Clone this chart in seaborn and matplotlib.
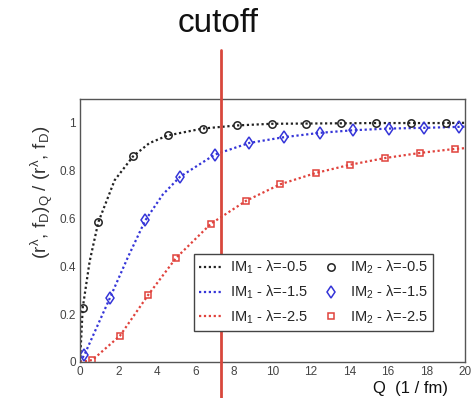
import matplotlib
matplotlib.use("Agg")
import matplotlib.pyplot as plt
from matplotlib.ticker import MultipleLocator, FixedLocator, FuncFormatter
import seaborn as sns

# ---- data ----
# IM2 markers
q_m05 = [0.14, 0.95, 2.76, 4.55, 6.37, 8.16, 9.96, 11.76, 13.58, 15.36, 17.17, 19.0]
v_m05 = [0.225, 0.584, 0.86, 0.947, 0.976, 0.989, 0.996, 0.997, 0.998, 0.999, 0.999, 0.999]
q_m15 = [0.23, 1.55, 3.39, 5.19, 7.0, 8.8, 10.6, 12.45, 14.2, 16.04, 17.86, 19.67]
v_m15 = [0.03, 0.267, 0.592, 0.774, 0.867, 0.916, 0.94, 0.958, 0.969, 0.976, 0.979, 0.983]
q_m25 = [0.64, 2.08, 3.54, 4.98, 6.8, 8.63, 10.4, 12.24, 14.05, 15.87, 17.66, 19.48]
v_m25 = [0.008, 0.11, 0.28, 0.434, 0.578, 0.674, 0.743, 0.79, 0.825, 0.853, 0.874, 0.891]
# IM1 curves
q_l05 = [0.0, 0.05, 0.14, 0.5, 0.95, 1.8, 2.76, 3.6, 4.55, 6.37, 8.16, 9.96, 11.76, 13.58, 15.36, 17.17, 19.0, 20.0]
v_l05 = [0.0, 0.08, 0.225, 0.42, 0.584, 0.76, 0.86, 0.915, 0.947, 0.976, 0.989, 0.996, 0.997, 0.998, 0.999, 0.999, 0.999, 1.0]
q_l15 = [0.0, 0.23, 1.55, 2.5, 3.39, 4.3, 5.19, 7.0, 8.8, 10.6, 12.45, 14.2, 16.04, 17.86, 19.67, 20.0]
v_l15 = [0.0, 0.03, 0.267, 0.44, 0.592, 0.70, 0.774, 0.867, 0.916, 0.94, 0.958, 0.969, 0.976, 0.979, 0.983, 0.984]
q_l25 = [0.0, 0.64, 2.08, 3.54, 4.98, 6.8, 8.63, 10.4, 12.24, 14.05, 15.87, 17.66, 19.48, 20.0]
v_l25 = [0.0, 0.008, 0.11, 0.28, 0.434, 0.578, 0.674, 0.743, 0.79, 0.825, 0.853, 0.874, 0.891, 0.894]

lam_labels = ["-0.5", "-1.5", "-2.5"]
colors = ["#222222", "#3535d8", "#e0423c"]
markers = ["o", "d", "s"]
msizes = [5.3, 6.2, 5.0]
cutoff_q = 7.3

x_ticks = [0, 2, 4, 6, 8, 10, 12, 14, 16, 18, 20]
y_ticks = [0, 0.2, 0.4, 0.6, 0.8, 1.0]

sns.set_style("white")
plt.rcParams["font.family"] = ["Liberation Sans", "DejaVu Sans"]
plt.rcParams["mathtext.fontset"] = "custom"
plt.rcParams["mathtext.rm"] = "Liberation Sans"
plt.rcParams["mathtext.it"] = "Liberation Sans"
plt.rcParams["mathtext.bf"] = "Liberation Sans:bold"

fig = plt.figure(figsize=(4.75, 3.98), dpi=100)
ax = fig.add_axes([0.1684, 0.0905, 0.8105, 0.661])

line_sets = [(q_l05, v_l05), (q_l15, v_l15), (q_l25, v_l25)]
mark_sets = [(q_m05, v_m05), (q_m15, v_m15), (q_m25, v_m25)]

handles = []
labels = []
for (q, v), c, lam in zip(line_sets, colors, lam_labels):
    sns.lineplot(x=q, y=v, color=c, linestyle=(0, (1, 1.2)), lw=1.6,
                 estimator=None, errorbar=None, sort=False, ax=ax)
    handles.append(ax.lines[-1])
    labels.append(r"IM$_1$ - λ=" + lam)
for (q, v), c, m, ms, lam in zip(mark_sets, colors, markers, msizes, lam_labels):
    sns.lineplot(x=q, y=v, color=c, linestyle="none", marker=m, markersize=ms,
                 markerfacecolor="none", markeredgecolor=c, markeredgewidth=1.1,
                 estimator=None, errorbar=None, sort=False, ax=ax)
    handles.append(ax.lines[-1])
    labels.append(r"IM$_2$ - λ=" + lam)

ax.set_xlim(0, 20)
ax.set_ylim(0, 1.1)
ax.xaxis.set_major_locator(FixedLocator(x_ticks))
ax.yaxis.set_major_locator(FixedLocator(y_ticks))
ax.xaxis.set_minor_locator(MultipleLocator(0.5))
ax.yaxis.set_minor_locator(MultipleLocator(0.05))
ax.yaxis.set_major_formatter(FuncFormatter(lambda v, p: f"{v:g}"))
ax.tick_params(axis="both", which="both", direction="in", top=False, right=False,
               colors="#444444", labelsize=8.5)
ax.tick_params(axis="x", which="major", length=5, width=1, pad=3)
ax.tick_params(axis="x", which="minor", length=2.5, width=0.8)
ax.tick_params(axis="y", which="major", length=8.5, width=1, pad=3)
ax.tick_params(axis="y", which="minor", length=4.5, width=0.8)
for s in ax.spines.values():
    s.set_color("#555555")
    s.set_linewidth(1.0)
ax.set_xlabel("")
ax.set_ylabel("")

leg = ax.legend(handles, labels, ncol=2, loc="upper left",
                bbox_to_anchor=(0.297, 0.411), borderaxespad=0,
                fontsize=10.5, frameon=True, fancybox=False,
                handlelength=1.5, handletextpad=0.6, columnspacing=0.8,
                labelspacing=0.5, borderpad=0.35)
leg.get_frame().set_edgecolor("#444444")
leg.get_frame().set_linewidth(1.0)
leg.get_frame().set_facecolor("white")
leg.get_frame().set_alpha(1)

ax.axvline(cutoff_q, ymin=-0.137, ymax=1.186, color="#d8473c", lw=2.0,
           clip_on=False, zorder=5)

fig.text(218 / 475, 1 - 32 / 398, "cutoff", ha="center", va="baseline",
         fontsize=24, color="#111111")
fig.text(448 / 475, 1 - 388 / 398, "Q  (1 / fm)", ha="right", va="center",
         fontsize=12, color="#111111")
ax.text(-0.098, 0.646, r"$(r^{\lambda},\, f_{D})_{Q}\ /\ (r^{\lambda},\, f_{D})$",
        transform=ax.transAxes, rotation=90, ha="center", va="center",
        fontsize=13.5, color="#333333")

fig.savefig("out.png", dpi=100)
